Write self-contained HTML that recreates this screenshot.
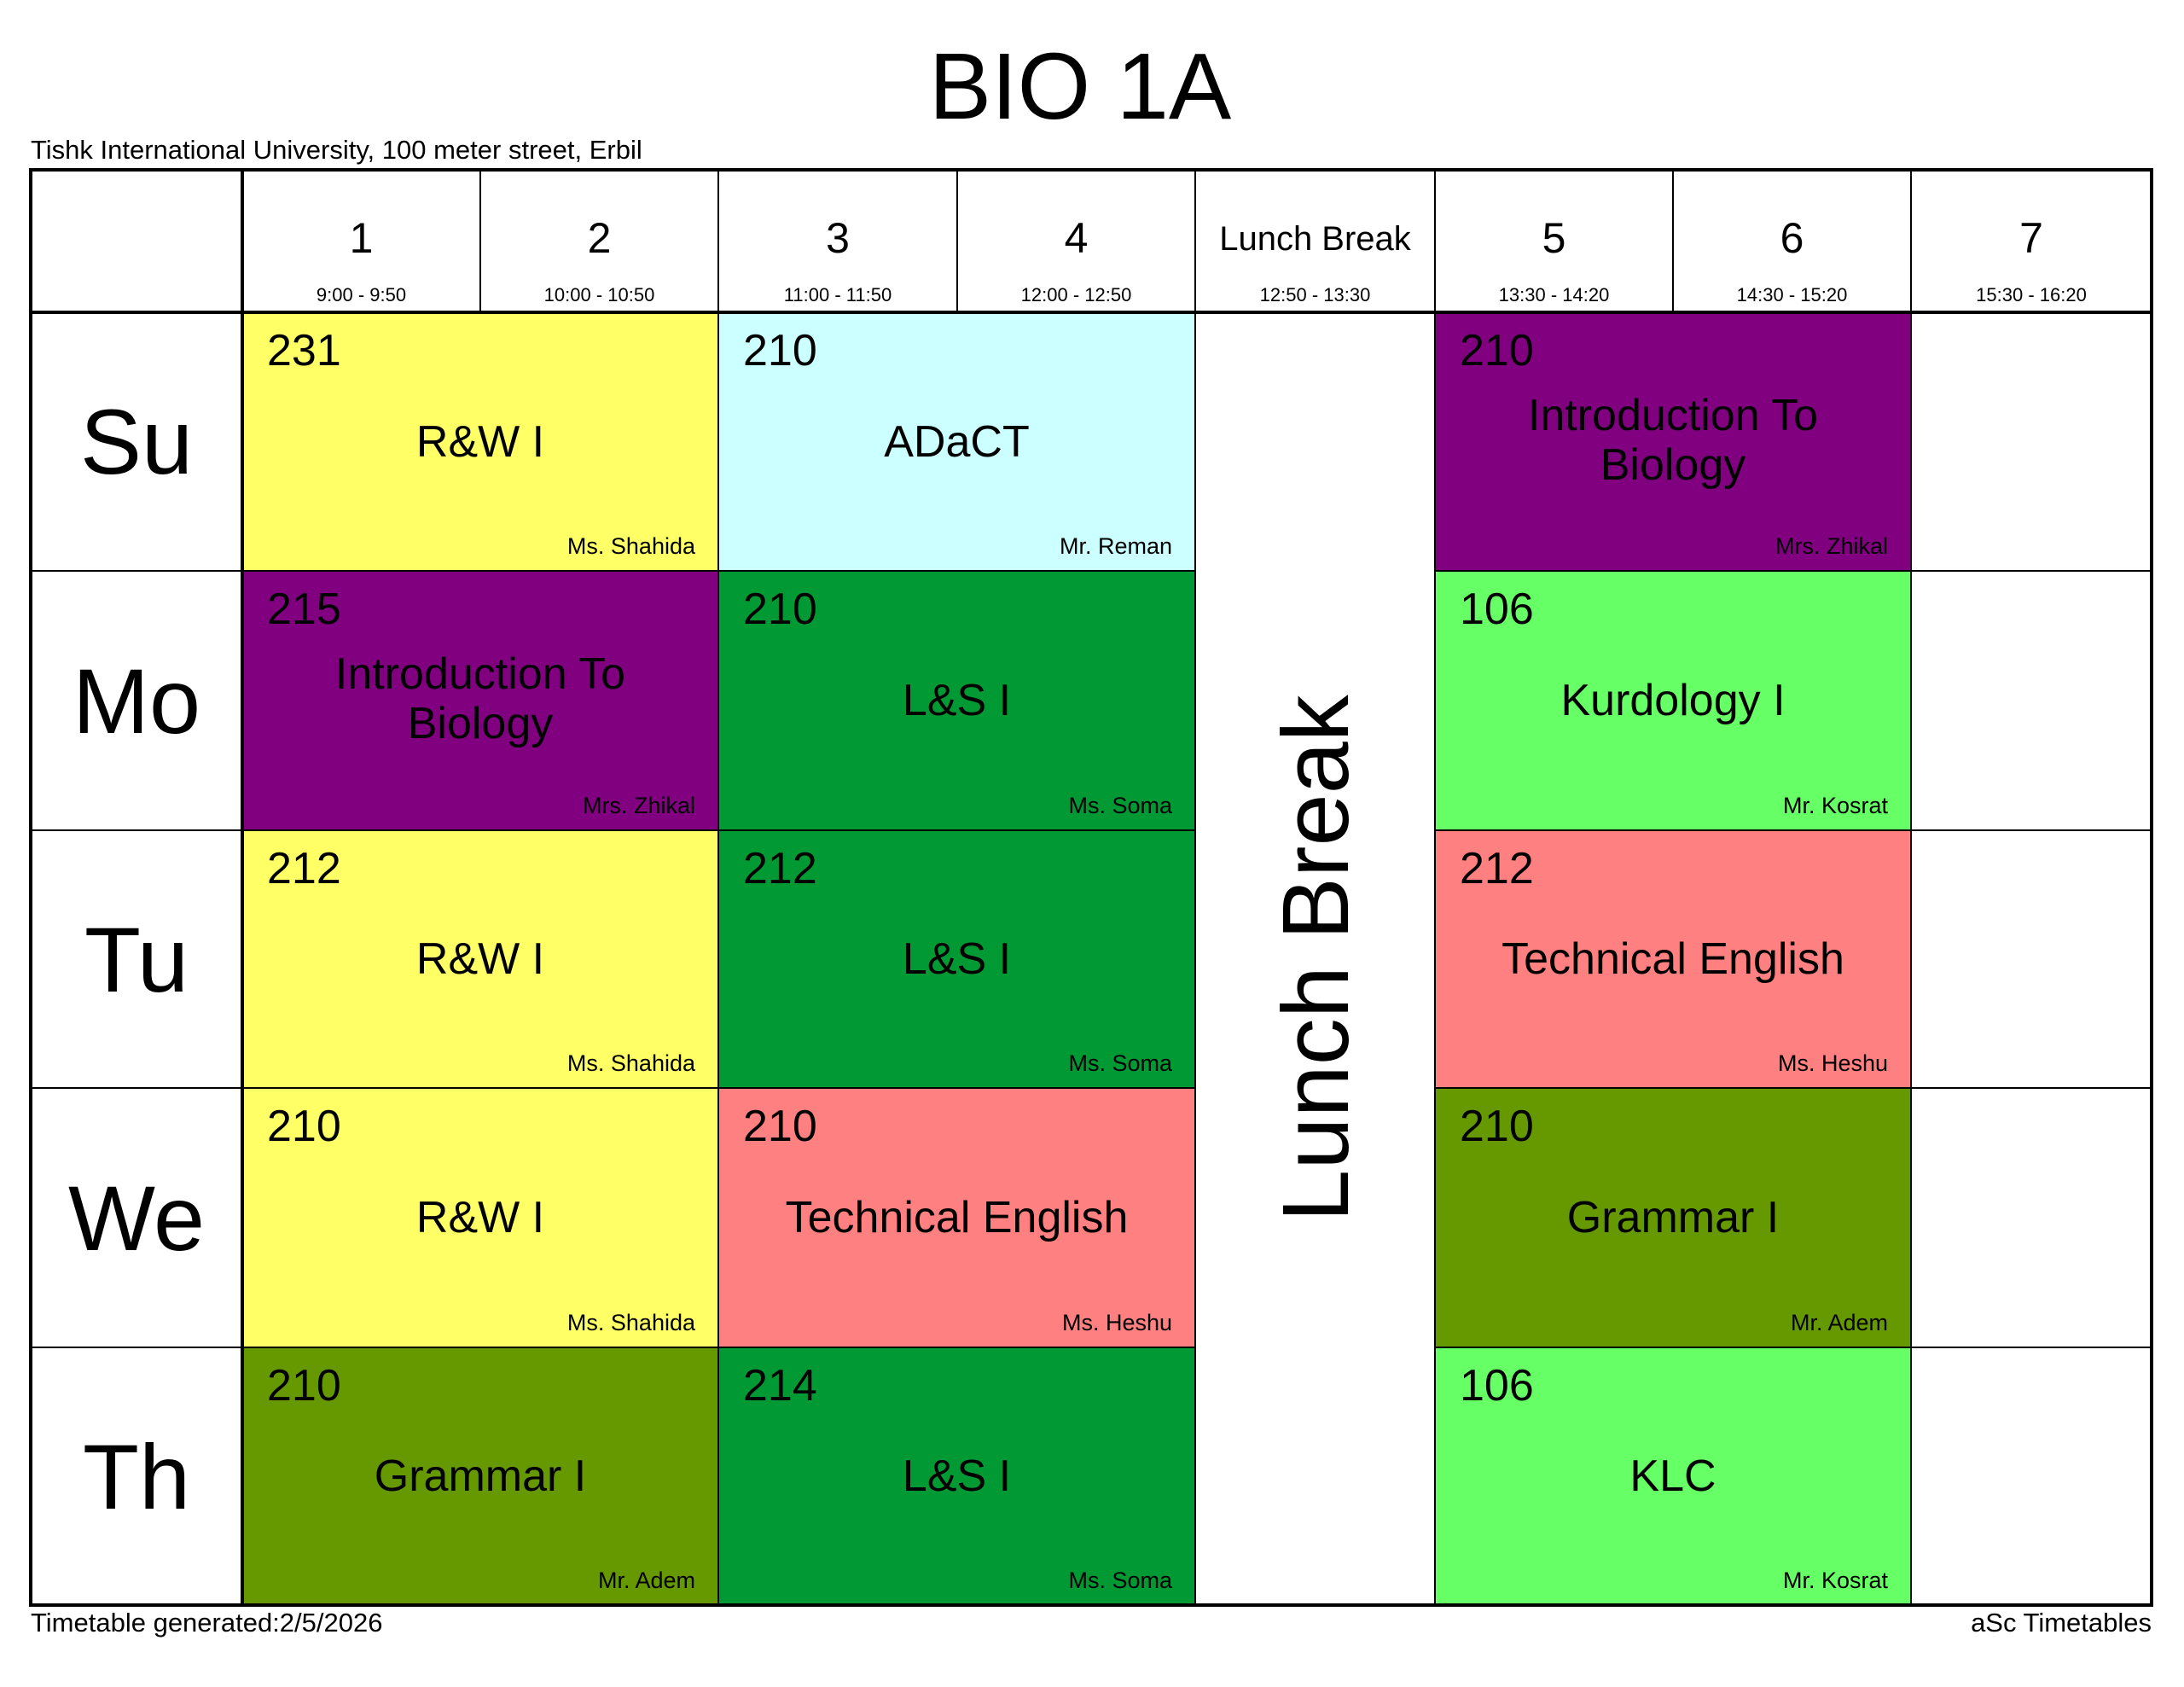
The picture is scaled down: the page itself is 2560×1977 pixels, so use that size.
<!DOCTYPE html>
<html><head><meta charset="utf-8"><style>
body{margin:0;width:2560px;height:1977px;background:#fff;position:relative;overflow:hidden;font-family:"Liberation Sans",Arial,sans-serif;color:#000}
.a{position:absolute;box-sizing:border-box}
.c{border:1px solid #000}
.room{position:absolute;left:28px;top:14px;font-size:52px}
.sub{position:absolute;left:0;right:0;top:0;bottom:0;display:flex;align-items:center;justify-content:center;text-align:center;font-size:52px;line-height:58px}
.t{position:absolute;right:26px;bottom:12px;font-size:27px}
.hn{position:absolute;left:0;right:0;top:50px;font-size:50px;text-align:center}
.ht{position:absolute;left:0;right:0;top:133px;font-size:22px;text-align:center}
.day{display:flex;align-items:center;justify-content:center;font-size:108px}
</style></head><body>
<div class="a" style="left:0;width:2532px;top:38px;text-align:center;font-size:110px">BIO 1A</div>
<div class="a" style="left:36px;top:158px;font-size:31px">Tishk International University, 100 meter street, Erbil</div>

<div class="a c" style="left:284px;top:199px;width:279px;height:167px"><div class="hn">1</div><div class="ht">9:00 - 9:50</div></div>
<div class="a c" style="left:563px;top:199px;width:279px;height:167px"><div class="hn">2</div><div class="ht">10:00 - 10:50</div></div>
<div class="a c" style="left:842px;top:199px;width:280px;height:167px"><div class="hn">3</div><div class="ht">11:00 - 11:50</div></div>
<div class="a c" style="left:1122px;top:199px;width:279px;height:167px"><div class="hn">4</div><div class="ht">12:00 - 12:50</div></div>
<div class="a c" style="left:1401px;top:199px;width:281px;height:167px"><div class="hn" style="font-size:40px;top:58px">Lunch Break</div><div class="ht">12:50 - 13:30</div></div>
<div class="a c" style="left:1682px;top:199px;width:279px;height:167px"><div class="hn">5</div><div class="ht">13:30 - 14:20</div></div>
<div class="a c" style="left:1961px;top:199px;width:279px;height:167px"><div class="hn">6</div><div class="ht">14:30 - 15:20</div></div>
<div class="a c" style="left:2240px;top:199px;width:282px;height:167px"><div class="hn">7</div><div class="ht">15:30 - 16:20</div></div>

<div class="a c day" style="left:36px;top:366px;width:248px;height:303px">Su</div>
<div class="a c day" style="left:36px;top:669px;width:248px;height:304px">Mo</div>
<div class="a c day" style="left:36px;top:973px;width:248px;height:302px">Tu</div>
<div class="a c day" style="left:36px;top:1275px;width:248px;height:304px">We</div>
<div class="a c day" style="left:36px;top:1579px;width:248px;height:302px">Th</div>

<div class="a c" style="left:284px;top:366px;width:558px;height:303px;background:#ffff66"><div class="room">231</div><div class="sub">R&amp;W I</div><div class="t">Ms. Shahida</div></div>
<div class="a c" style="left:842px;top:366px;width:559px;height:303px;background:#ccffff"><div class="room">210</div><div class="sub">ADaCT</div><div class="t">Mr. Reman</div></div>
<div class="a c" style="left:1682px;top:366px;width:558px;height:303px;background:#800080"><div class="room">210</div><div class="sub" style="bottom:4px">Introduction To<br>Biology</div><div class="t">Mrs. Zhikal</div></div>
<div class="a c" style="left:284px;top:669px;width:558px;height:304px;background:#800080"><div class="room">215</div><div class="sub" style="bottom:4px">Introduction To<br>Biology</div><div class="t">Mrs. Zhikal</div></div>
<div class="a c" style="left:842px;top:669px;width:559px;height:304px;background:#009933"><div class="room">210</div><div class="sub">L&amp;S I</div><div class="t">Ms. Soma</div></div>
<div class="a c" style="left:1682px;top:669px;width:558px;height:304px;background:#66ff66"><div class="room">106</div><div class="sub">Kurdology I</div><div class="t">Mr. Kosrat</div></div>
<div class="a c" style="left:284px;top:973px;width:558px;height:302px;background:#ffff66"><div class="room">212</div><div class="sub">R&amp;W I</div><div class="t">Ms. Shahida</div></div>
<div class="a c" style="left:842px;top:973px;width:559px;height:302px;background:#009933"><div class="room">212</div><div class="sub">L&amp;S I</div><div class="t">Ms. Soma</div></div>
<div class="a c" style="left:1682px;top:973px;width:558px;height:302px;background:#ff8080"><div class="room">212</div><div class="sub">Technical English</div><div class="t">Ms. Heshu</div></div>
<div class="a c" style="left:284px;top:1275px;width:558px;height:304px;background:#ffff66"><div class="room">210</div><div class="sub">R&amp;W I</div><div class="t">Ms. Shahida</div></div>
<div class="a c" style="left:842px;top:1275px;width:559px;height:304px;background:#ff8080"><div class="room">210</div><div class="sub">Technical English</div><div class="t">Ms. Heshu</div></div>
<div class="a c" style="left:1682px;top:1275px;width:558px;height:304px;background:#669900"><div class="room">210</div><div class="sub">Grammar I</div><div class="t">Mr. Adem</div></div>
<div class="a c" style="left:284px;top:1579px;width:558px;height:302px;background:#669900"><div class="room">210</div><div class="sub">Grammar I</div><div class="t">Mr. Adem</div></div>
<div class="a c" style="left:842px;top:1579px;width:559px;height:302px;background:#009933"><div class="room">214</div><div class="sub">L&amp;S I</div><div class="t">Ms. Soma</div></div>
<div class="a c" style="left:1682px;top:1579px;width:558px;height:302px;background:#66ff66"><div class="room">106</div><div class="sub">KLC</div><div class="t">Mr. Kosrat</div></div>

<div class="a c" style="left:2240px;top:366px;width:282px;height:303px"></div>
<div class="a c" style="left:2240px;top:669px;width:282px;height:304px"></div>
<div class="a c" style="left:2240px;top:973px;width:282px;height:302px"></div>
<div class="a c" style="left:2240px;top:1275px;width:282px;height:304px"></div>
<div class="a c" style="left:2240px;top:1579px;width:282px;height:302px"></div>

<div class="a c" style="left:1401px;top:366px;width:281px;height:1515px"></div>
<div class="a" style="left:1543px;top:1123px;width:0;height:0"><div style="position:absolute;left:-400px;top:-70px;width:800px;height:140px;line-height:140px;text-align:center;font-size:110px;transform:rotate(-90deg)">Lunch Break</div></div>

<div class="a" style="left:34px;top:197px;width:2490px;height:1686px;border:4px solid #000"></div>
<div class="a" style="left:34px;top:364px;width:2490px;height:4px;background:#000"></div>
<div class="a" style="left:282px;top:197px;width:4px;height:1686px;background:#000"></div>

<div class="a" style="left:36px;top:1884px;font-size:31px">Timetable generated:2/5/2026</div>
<div class="a" style="right:38px;top:1884px;font-size:31px">aSc Timetables</div>
</body></html>
